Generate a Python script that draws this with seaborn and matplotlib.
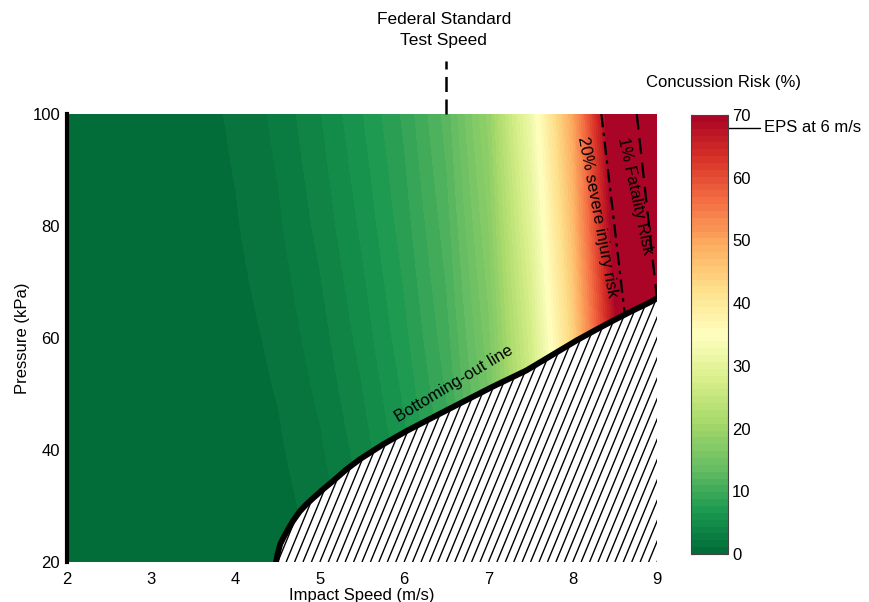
import numpy as np
import matplotlib
matplotlib.use("Agg")
import matplotlib.pyplot as plt
import seaborn as sns
from matplotlib.patches import Polygon
from matplotlib.collections import LineCollection
from matplotlib.colors import ListedColormap

# ---------------- data ----------------
speeds = [2.0, 2.5, 3.0, 3.5, 4.0, 4.5, 5.0, 5.5, 6.0, 6.5, 7.0, 7.5, 8.0, 8.5, 9.0]
pressures = [20, 40, 60, 80, 100]
risk_p20 = [0.0, 0.0, 0.0, 0.0, 0.0, 0.4, 1.2, 2.8, 5.0, 8.0, 13.0, 23.0, 38.0, 60.0, 78.0]
risk_p40 = [0.0, 0.0, 0.0, 0.0, 0.3, 0.9, 2.0, 3.8, 6.2, 9.3, 14.5, 25.0, 41.0, 64.0, 80.0]
risk_p60 = [0.0, 0.0, 0.0, 0.2, 0.6, 1.4, 2.8, 4.8, 7.3, 10.5, 16.0, 27.0, 44.0, 68.0, 82.0]
risk_p80 = [0.0, 0.0, 0.1, 0.4, 1.0, 2.0, 3.6, 5.7, 8.2, 11.5, 17.5, 29.5, 47.0, 72.0, 85.0]
risk_p100 = [0.0, 0.0, 0.2, 0.6, 1.3, 2.5, 4.3, 6.5, 9.0, 12.5, 19.0, 32.0, 50.0, 75.0, 88.0]

bottom_speed = [4.48, 4.50, 4.53, 4.57, 4.61, 4.68, 4.76, 4.84, 4.92, 5.04, 5.16, 5.32,
                5.48, 5.75, 6.03, 6.35, 6.66, 7.05, 7.45, 7.75, 8.05, 8.28, 8.48, 8.70,
                8.92, 9.0]
bottom_press = [20.0, 21.5, 23.2, 24.4, 25.5, 27.3, 29.0, 30.3, 31.4, 33.0, 34.5, 36.6,
                38.4, 41.0, 43.4, 45.9, 48.3, 51.3, 54.2, 56.9, 59.6, 61.5, 63.1, 64.8,
                66.4, 67.1]

fatality_speed = [8.76, 9.0]
fatality_press = [100.0, 67.0]
severe_speed = [8.34, 8.62]
severe_press = [100.0, 64.0]

federal_speed = 6.5
eps_value = 68
cbar_ticks = [0, 10, 20, 30, 40, 50, 60, 70]
x_ticks = [2, 3, 4, 5, 6, 7, 8, 9]
y_ticks = [20, 40, 60, 80, 100]

# ---------------- style ----------------
sns.set_style("white")
plt.rcParams["font.family"] = ["Liberation Sans", "DejaVu Sans"]
plt.rcParams["font.size"] = 12
plt.rcParams["text.color"] = "black"
plt.rcParams["axes.labelcolor"] = "black"
plt.rcParams["xtick.color"] = "black"
plt.rcParams["ytick.color"] = "black"

cmap = ListedColormap(sns.color_palette("RdYlGn_r", 64))

fig = plt.figure(figsize=(8.7, 6.02), dpi=100)
W, H = 870, 602
ax = fig.add_axes([67 / W, (H - 562) / H, 590 / W, 448 / H])
cax = fig.add_axes([691 / W, (H - 554) / H, 37 / W, 439 / H])

Z = np.array([risk_p20, risk_p40, risk_p60, risk_p80, risk_p100])
ds = (speeds[1] - speeds[0]) / 2
dp = (pressures[1] - pressures[0]) / 2
im = ax.imshow(Z, origin="lower", aspect="auto", cmap=cmap, vmin=0, vmax=70,
               extent=[speeds[0] - ds, speeds[-1] + ds, pressures[0] - dp, pressures[-1] + dp],
               interpolation="bilinear", interpolation_stage="data", zorder=0)
ax.set_xlim(2, 9)
ax.set_ylim(20, 100)

# hatched region below bottoming-out line
poly_pts = list(zip(bottom_speed, bottom_press)) + [(9.0, 20.0)]
patch = Polygon(poly_pts, closed=True, facecolor="white", edgecolor="none", zorder=2)
ax.add_patch(patch)
segs = []
for x0 in np.arange(2.0, 9.05, 0.1):
    segs.append([(x0, 20), (x0 + 2.2, 100)])
lc = LineCollection(segs, colors="black", linewidths=1.0, zorder=3)
ax.add_collection(lc)
lc.set_clip_path(patch)

# lines
sns.lineplot(x=bottom_speed, y=bottom_press, ax=ax, color="black", lw=4.2,
             sort=False, estimator=None, zorder=5)
ax.lines[-1].set_solid_joinstyle("round")
sns.lineplot(x=fatality_speed, y=fatality_press, ax=ax, color="black", lw=1.6,
             sort=False, estimator=None, zorder=5)
ax.lines[-1].set_dashes([7, 4])
sns.lineplot(x=severe_speed, y=severe_press, ax=ax, color="black", lw=1.6,
             sort=False, estimator=None, zorder=5)
ax.lines[-1].set_dashes([6, 2.5, 1.5, 2.5])

# Federal standard marker
tr = ax.get_xaxis_transform()
ax.plot([federal_speed, federal_speed], [1.0, 1.118], transform=tr, color="black",
        lw=1.8, dashes=[6, 3], clip_on=False)
ax.text(6.47, 1.1875, "Federal Standard\nTest Speed", transform=tr, ha="center",
        va="center", fontsize=12.5, linespacing=1.5)

# annotations
ax.text(6.59, 51.9, "Bottoming-out line", rotation=31, ha="center", va="center",
        fontsize=12, rotation_mode="anchor", zorder=6)
ax.text(8.29, 81.7, "20% severe injury risk", rotation=-79.4, ha="center", va="center",
        fontsize=12, rotation_mode="anchor", zorder=6)
ax.text(8.74, 85.3, "1% Fatality Risk", rotation=-77.7, ha="center", va="center",
        fontsize=12, rotation_mode="anchor", zorder=6)

# axes styling
for s in ["top", "right", "bottom"]:
    ax.spines[s].set_visible(False)
ax.spines["left"].set_linewidth(3)
ax.spines["left"].set_color("black")
ax.spines["left"].set_zorder(6)
ax.set_xticks(x_ticks)
ax.set_yticks(y_ticks)
ax.tick_params(axis="both", direction="out", length=2, width=1, color="black",
               labelsize=12, labelcolor="black")
ax.tick_params(axis="x", pad=5)
ax.tick_params(axis="y", pad=3)
ax.set_xlabel("Impact Speed (m/s)", fontsize=12, labelpad=1)
ax.set_ylabel("Pressure (kPa)", fontsize=12, labelpad=2)
ax.grid(False)

# colorbar
cb = fig.colorbar(im, cax=cax, ticks=cbar_ticks)
cb.outline.set_linewidth(0.8)
cb.outline.set_edgecolor("#444444")
cax.tick_params(direction="in", length=3, width=0.8, color="#444444", left=True,
                right=True, labelsize=12, pad=3, labelcolor="black")
ytr = cax.get_yaxis_transform()
cax.plot([1.0, 1.86], [eps_value, eps_value], transform=ytr, color="black", lw=1,
         clip_on=False)
cax.text(1.97, eps_value, "EPS at 6 m/s", transform=ytr, ha="left", va="center",
         fontsize=12)
fig.text(724 / W, 1 - 82 / H, "Concussion Risk (%)", ha="center", va="center",
         fontsize=12)

fig.savefig("out.png", dpi=100)
